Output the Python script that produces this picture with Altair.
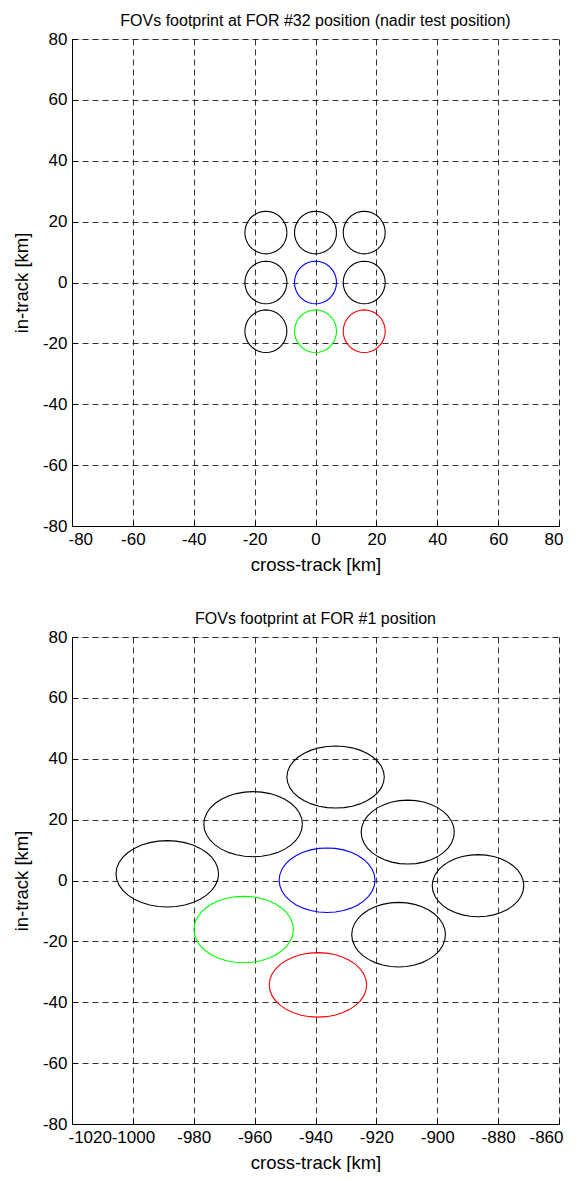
import altair as alt
import numpy as np
import pandas as pd

# ---- Top panel (FOR #32): circle centres / semi-axes in km ----
top_cx = [-16.3, 0.0, 16.0, -16.3, 0.0, 16.0, -16.3, 0.0, 16.0]
top_cy = [16.4, 16.4, 16.4, 0.0, 0.0, 0.0, -16.0, -16.0, -16.0]
top_rx = [6.9, 6.9, 6.9, 6.9, 6.9, 6.9, 6.9, 6.9, 6.9]
top_ry = [7.0, 7.0, 7.0, 7.0, 7.0, 7.0, 7.0, 7.0, 7.0]
top_col = ["black", "black", "black", "black", "blue", "black", "black", "#00ff00", "red"]

# ---- Bottom panel (FOR #1): ellipse centres / semi-axes in km ----
bot_cx = [-988.7, -960.5, -933.4, -909.7, -936.2, -886.6, -963.6, -912.7, -939.2]
bot_cy = [2.2, 18.5, 34.0, 15.9, 0.1, -1.7, -16.1, -17.8, -34.3]
bot_rx = [16.85, 16.2, 16.0, 15.3, 15.75, 15.05, 16.35, 15.4, 16.0]
bot_ry = [10.9, 10.7, 10.2, 10.5, 10.6, 10.2, 10.9, 10.6, 10.6]
bot_col = ["black", "black", "black", "black", "blue", "black", "#00ff00", "black", "red"]

y_ticks = [-80, -60, -40, -20, 0, 20, 40, 60, 80]
top_x_ticks = [-80, -60, -40, -20, 0, 20, 40, 60, 80]
bot_x_ticks = [-1020, -1000, -980, -960, -940, -920, -900, -880, -860]

FONT = "Liberation Sans"
N_SEG = 36


def outline_table(cx, cy, rx, ry, cols):
    rows = []
    for i, (x0, y0, a, b, c) in enumerate(zip(cx, cy, rx, ry, cols)):
        for k in range(N_SEG + 1):
            t = 2 * np.pi * k / N_SEG
            rows.append({"e": i, "k": k, "x": x0 + a * np.cos(t),
                         "y": y0 + b * np.sin(t), "c": c})
    return pd.DataFrame(rows)


def panel(df, x_ticks, title):
    xs = alt.Scale(domain=[x_ticks[0], x_ticks[-1]], nice=False, zero=False)
    ys = alt.Scale(domain=[y_ticks[0], y_ticks[-1]], nice=False, zero=False)
    common = dict(grid=True, gridDash=[6, 4], gridColor="black", gridOpacity=0.8,
                  gridWidth=1, tickSize=0, domainColor="black", domainWidth=1,
                  labelFont=FONT, labelFontSize=17, labelColor="black",
                  labelExpr="'' + datum.value", labelOverlap=False,
                  titleFont=FONT, titleFontSize=18.5, titleColor="black",
                  titleFontWeight="normal")
    main = alt.Chart(df).mark_line(strokeWidth=1.1).encode(
        x=alt.X("x:Q", scale=xs,
                axis=alt.Axis(values=x_ticks, title="cross-track [km]",
                              orient="bottom", labelPadding=5, titlePadding=8,
                              labelFlush=True, labelFlushOffset=4,
                              **common)),
        y=alt.Y("y:Q", scale=ys,
                axis=alt.Axis(values=y_ticks, title="in-track [km]",
                              orient="left", labelPadding=5, titlePadding=11,
                              labelFlush=False, **common)),
        detail="e:N",
        order="k:Q",
        color=alt.Color("c:N", scale=None),
    )
    inner = alt.Chart(df).mark_line(opacity=0).encode(
        x=alt.X("x:Q", scale=xs,
                axis=alt.Axis(values=x_ticks, orient="bottom", offset=-5,
                              tickSize=5, tickColor="black", labels=False,
                              domain=False, grid=False, title=None)),
        y=alt.Y("y:Q", scale=ys,
                axis=alt.Axis(values=y_ticks, orient="left", offset=-5,
                              tickSize=5, tickColor="black", labels=False,
                              domain=False, grid=False, title=None)),
        detail="e:N",
        order="k:Q",
    )
    return alt.layer(main, inner).resolve_axis(
        x="independent", y="independent"
    ).properties(
        width=487, height=487,
        title=alt.TitleParams(title, font=FONT, fontSize=16, fontWeight="normal",
                              color="black", offset=1),
    )


top = panel(outline_table(top_cx, top_cy, top_rx, top_ry, top_col), top_x_ticks,
            "FOVs footprint at FOR #32 position (nadir test position)")
bot = panel(outline_table(bot_cx, bot_cy, bot_rx, bot_ry, bot_col), bot_x_ticks,
            "FOVs footprint at FOR #1 position")

chart = alt.vconcat(top, bot, spacing=36).properties(
    padding={"left": 3, "top": 4, "right": 0, "bottom": 0}
).configure_view(stroke=None).configure(background="white")

chart.save("out.html", embed_options={"renderer": "svg", "actions": False})
